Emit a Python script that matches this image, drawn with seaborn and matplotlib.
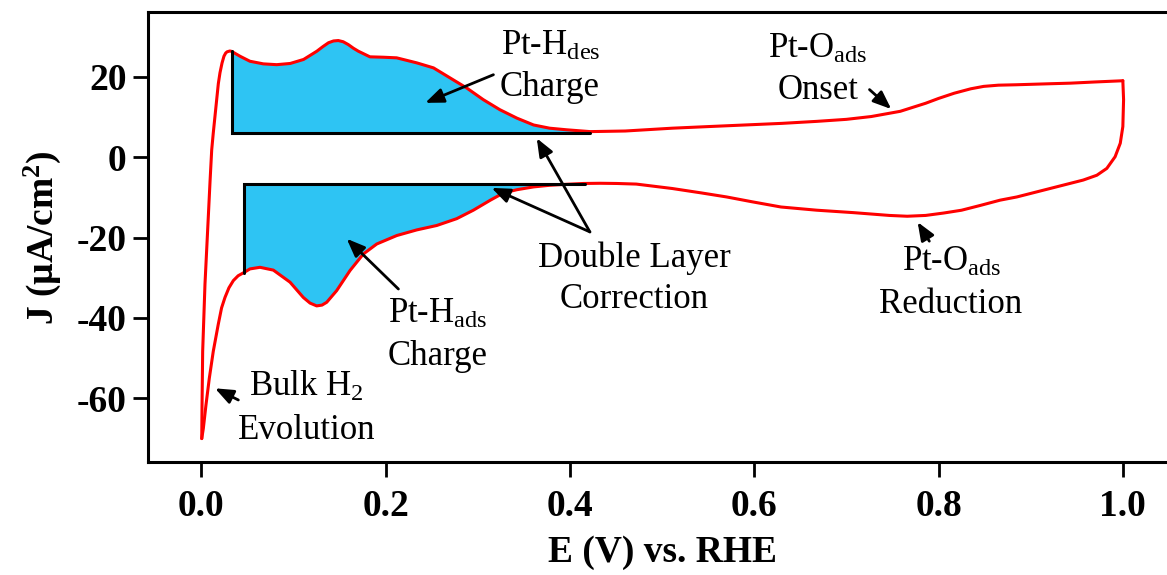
import numpy as np
import matplotlib
matplotlib.use("Agg")
import matplotlib.pyplot as plt
import seaborn as sns

# Anodic sweep, 0 V -> 1.0 V (E in V vs. RHE, J in uA/cm^2)
E_anodic = [0.0005, 0.0008, 0.0015, 0.0040, 0.0076, 0.0095, 0.0113, 0.0130,
            0.0167, 0.0185, 0.0203, 0.0225, 0.0246, 0.0265, 0.0280, 0.0310,
            0.0330, 0.0420, 0.0528, 0.0673, 0.0818, 0.0965, 0.1110, 0.1254,
            0.1320, 0.1380, 0.1435, 0.1487, 0.1540, 0.1595, 0.1650, 0.1704,
            0.1830, 0.1976, 0.2120, 0.2338, 0.2520, 0.2700, 0.2880, 0.3060,
            0.3240, 0.3425, 0.3606, 0.3780, 0.3966, 0.4220, 0.4600, 0.5110,
            0.5500, 0.5900, 0.6300, 0.6680, 0.7000, 0.7270, 0.7585, 0.7860,
            0.8000, 0.8170, 0.8350, 0.8490, 0.8650, 0.8840, 0.9200, 0.9430,
            0.9700, 1.0000]
J_anodic = [-70.0, -62.0, -48.3, -31.6, -14.9, -6.0, 1.8, 6.0,
            14.3, 18.3, 21.0, 23.4, 25.1, 25.9, 26.2, 26.4,
            26.3, 25.1, 23.85, 23.2, 23.0, 23.3, 24.3, 26.35,
            27.5, 28.45, 28.9, 29.0, 28.7, 28.0, 27.1, 26.35,
            24.95, 24.85, 24.7, 23.45, 22.2, 19.7, 17.2, 14.3,
            11.8, 9.7, 8.0, 7.2, 6.8, 6.35, 6.5, 7.2,
            7.6, 8.0, 8.4, 8.9, 9.4, 10.1, 11.4, 13.4,
            14.6, 15.9, 17.0, 17.6, 17.9, 18.0, 18.25, 18.4,
            18.7, 19.0]

# Cathodic sweep, 1.0 V -> 0 V
E_cathodic = [1.0000, 1.0008, 1.0000, 0.9972, 0.9916, 0.9826, 0.9718, 0.9570,
              0.9210, 0.8850, 0.8668, 0.8455, 0.8250, 0.8056, 0.7860, 0.7660,
              0.7467, 0.7075, 0.6680, 0.6290, 0.5976, 0.5700, 0.5427, 0.5110,
              0.4720, 0.4509, 0.4330, 0.4147, 0.3966, 0.3780, 0.3606, 0.3425,
              0.3280, 0.3137, 0.2952, 0.2772, 0.2555, 0.2338, 0.2121, 0.1904,
              0.1758, 0.1614, 0.1469, 0.1361, 0.1310, 0.1252, 0.1180, 0.1107,
              0.0963, 0.0782, 0.0637, 0.0528, 0.0463, 0.0400, 0.0348, 0.0300,
              0.0257, 0.0220, 0.0184, 0.0130, 0.0087, 0.0051, 0.0022, 0.0005]
J_cathodic = [19.0, 14.3, 7.6, 3.45, 0.1, -2.8, -4.5, -5.7,
              -7.8, -9.9, -10.7, -12.0, -13.2, -13.9, -14.5, -14.7,
              -14.5, -13.8, -13.2, -12.4, -11.1, -9.9, -8.9, -7.8,
              -6.7, -6.55, -6.5, -6.55, -6.75, -7.0, -7.4, -8.1,
              -8.9, -10.7, -13.2, -15.3, -17.0, -18.1, -19.5, -21.6,
              -24.1, -28.2, -33.2, -36.1, -36.8, -37.0, -36.3, -34.9,
              -31.1, -28.1, -27.4, -27.8, -28.7, -29.5, -30.7, -32.5,
              -34.9, -37.5, -41.6, -48.3, -55.0, -61.6, -67.5, -70.0]

# Hydrogen charge integration windows and double-layer baselines
hdes_window = (0.033, 0.422)
hdes_baseline = 6.1
hads_window = (0.0463, 0.416)
hads_baseline = -6.6

x_ticks = [0.0, 0.2, 0.4, 0.6, 0.8, 1.0]
y_ticks = [-60, -40, -20, 0, 20]

sns.set_style("ticks")
plt.rcParams["font.family"] = ["Liberation Serif", "DejaVu Serif"]
plt.rcParams["mathtext.fontset"] = "custom"
plt.rcParams["mathtext.rm"] = "Liberation Serif"
plt.rcParams["mathtext.it"] = "Liberation Serif:italic"
plt.rcParams["mathtext.bf"] = "Liberation Serif:bold"
plt.rcParams["axes.unicode_minus"] = False
plt.rcParams["text.color"] = "black"
plt.rcParams["axes.labelcolor"] = "black"
plt.rcParams["xtick.color"] = "black"
plt.rcParams["ytick.color"] = "black"

W, H = 1167, 575
fig = plt.figure(figsize=(W / 100, H / 100), dpi=100)
ax_left, ax_right, ax_top, ax_bottom = 148.3, 1168.0, 12.0, 462.3
ax = fig.add_axes([ax_left / W, 1 - ax_bottom / H,
                   (ax_right - ax_left) / W, (ax_bottom - ax_top) / H])

fill_color = "#2EC4F3"
E_a = np.asarray(E_anodic)
J_a = np.asarray(J_anodic)
E_c = np.asarray(E_cathodic)
J_c = np.asarray(J_cathodic)

# Pt-H desorption charge (anodic sweep above the baseline)
m = (E_a >= hdes_window[0]) & (E_a <= hdes_window[1])
Ea_seg, Ja_seg = E_a[m], J_a[m]
ax.fill_between(Ea_seg, Ja_seg, hdes_baseline, where=Ja_seg >= hdes_baseline,
                interpolate=True, color=fill_color, linewidth=0, zorder=1)
# Pt-H adsorption charge (cathodic sweep below the baseline)
m = (E_c >= hads_window[0]) & (E_c <= hads_window[1])
order = np.argsort(E_c[m])
Ec_seg, Jc_seg = E_c[m][order], J_c[m][order]
ax.fill_between(Ec_seg, Jc_seg, hads_baseline, where=Jc_seg <= hads_baseline,
                interpolate=True, color=fill_color, linewidth=0, zorder=1)

# Cyclic voltammogram
sns.lineplot(x=E_anodic, y=J_anodic, sort=False, estimator=None, ax=ax,
             color="#FF0000", linewidth=2.2, zorder=3)
sns.lineplot(x=E_cathodic, y=J_cathodic, sort=False, estimator=None, ax=ax,
             color="#FF0000", linewidth=2.2, zorder=3)

# Double-layer correction outlines
des_top = np.interp(hdes_window[0], Ea_seg, Ja_seg)
ax.plot([hdes_window[0], hdes_window[0], hdes_window[1]],
        [des_top, hdes_baseline, hdes_baseline],
        color="black", linewidth=2.2, solid_joinstyle="miter", zorder=4)
ads_bottom = np.interp(hads_window[0], Ec_seg, Jc_seg)
ax.plot([hads_window[0], hads_window[0], hads_window[1]],
        [ads_bottom, hads_baseline, hads_baseline],
        color="black", linewidth=2.2, solid_joinstyle="miter", zorder=4)

# Text labels: (text, x, baseline y)
txt_size = 25
labels = [
    ("Pt-H$_{\\mathrm{des}}$", 0.379, 25.5),
    ("Charge", 0.378, 15.1),
    ("Pt-H$_{\\mathrm{ads}}$", 0.257, -41.2),
    ("Charge", 0.2563, -51.6),
    ("Bulk H$_{\\mathrm{2}}$", 0.1144, -59.5),
    ("Evolution", 0.1144, -70.0),
    ("Double Layer", 0.4695, -27.4),
    ("Correction", 0.4695, -37.4),
    ("Pt-O$_{\\mathrm{ads}}$", 0.669, 24.7),
    ("Onset", 0.669, 14.45),
    ("Pt-O$_{\\mathrm{ads}}$", 0.8144, -28.2),
    ("Reduction", 0.8134, -38.65),
]
for s, x, y in labels:
    ax.text(x, y, s, fontsize=txt_size, ha="center", va="baseline",
            color="black", zorder=5)

# Arrows: (tail, head)
arrows = [
    ((0.317, 20.5), (0.243, 13.5)),
    ((0.4217, -18.6), (0.364, 4.7)),
    ((0.4217, -18.6), (0.315, -7.65)),
    ((0.2139, -32.8), (0.1578, -20.3)),
    ((0.0402, -60.4), (0.0149, -57.5)),
    ((0.7251, 16.8), (0.7487, 11.95)),
    ((0.790, -20.9), (0.7773, -16.15)),
]
for tail, head in arrows:
    ax.annotate("", xy=head, xytext=tail, zorder=5,
                arrowprops=dict(arrowstyle="-|>,head_length=0.5,head_width=0.2",
                                mutation_scale=22, color="black", lw=2.0,
                                shrinkA=0, shrinkB=0))

ax.set_xlim(-0.0575, 1.049)
ax.set_ylim(-75.9, 36.1)
ax.set_xticks(x_ticks)
ax.set_xticklabels([f"{v:.1f}" for v in x_ticks])
ax.set_yticks(y_ticks)
ax.set_yticklabels([f"{v:d}" for v in y_ticks])
ax.tick_params(axis="both", direction="out", length=10.8, width=2.0,
               labelsize=27, colors="black")
ax.tick_params(axis="x", pad=8.3)
ax.tick_params(axis="y", pad=4.8)
for lab in ax.get_xticklabels() + ax.get_yticklabels():
    lab.set_fontweight("bold")

for side in ["left", "top", "bottom"]:
    ax.spines[side].set_linewidth(2.2)
    ax.spines[side].set_color("black")
ax.spines["right"].set_visible(False)

ax.set_xlabel("E (V) vs. RHE", fontsize=27, fontweight="bold", color="black")
ax.set_ylabel("J (\u00b5A/cm$^{\\mathbf{2}}$)", fontsize=27, fontweight="bold",
              color="black")
ax.xaxis.set_label_coords(0.504, -0.1606)
ax.yaxis.set_label_coords(-0.0841, 0.5)

fig.savefig("out.png", dpi=100)
